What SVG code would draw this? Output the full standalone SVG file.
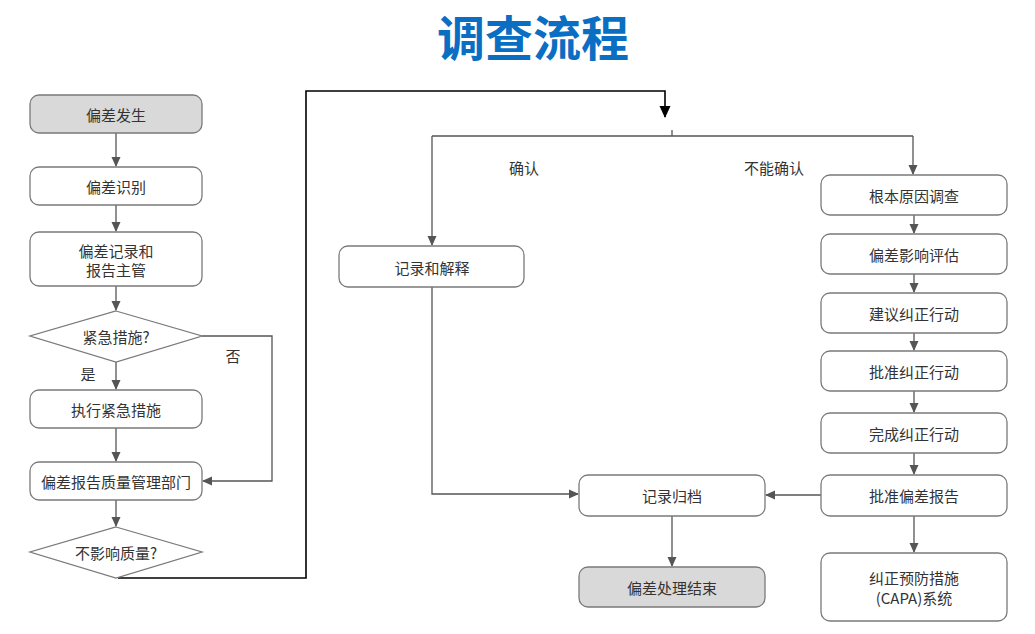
<svg xmlns="http://www.w3.org/2000/svg" width="1035" height="634" viewBox="0 0 1035 634">
<style>
.box{fill:#fff;stroke:#7a7a7a;stroke-width:1.3}
.gray{fill:#d9d9d9}
.t{font-family:"Noto Sans CJK SC","Liberation Sans",sans-serif;font-size:15px;fill:#333;text-anchor:middle;dominant-baseline:central}
.lbl{font-family:"Noto Sans CJK SC","Liberation Sans",sans-serif;font-size:15px;fill:#333;text-anchor:middle;dominant-baseline:central}
.c{fill:none;stroke:#555;stroke-width:1.3}
.k{fill:none;stroke:#000;stroke-width:1.6}
.title{font-family:"Noto Sans CJK SC","Liberation Sans",sans-serif;font-size:48px;font-weight:bold;fill:#0a6fc2;text-anchor:middle}
</style>
<defs>
<marker id="a" markerWidth="10" markerHeight="10" refX="9" refY="5" orient="auto" markerUnits="userSpaceOnUse"><path d="M0,0.5 L10,5 L0,9.5 Z" fill="#555"/></marker>
<marker id="ak" markerWidth="12" markerHeight="12" refX="11" refY="6" orient="auto" markerUnits="userSpaceOnUse"><path d="M0,0.5 L12,6 L0,11.5 Z" fill="#000"/></marker>
</defs>
<rect width="1035" height="634" fill="#fff"/>
<text class="title" x="533" y="56">调查流程</text>

<g id="connectors">
<path class="c" d="M116,133 V166" marker-end="url(#a)"/>
<path class="c" d="M116,205 V231" marker-end="url(#a)"/>
<path class="c" d="M116,286 V310" marker-end="url(#a)"/>
<path class="c" d="M116,362 V389" marker-end="url(#a)"/>
<path class="c" d="M202,336 H272 V481 H203" marker-end="url(#a)"/>
<path class="c" d="M116,428 V461" marker-end="url(#a)"/>
<path class="c" d="M116,500 V526" marker-end="url(#a)"/>
<path class="k" d="M118,578 H306 V91 H665 V117" marker-end="url(#ak)"/>
<path class="c" d="M432,136 H913"/>
<path class="c" d="M672,136 V130"/>
<path class="c" d="M432,136 V245" marker-end="url(#a)"/>
<path class="c" d="M913,136 V174" marker-end="url(#a)"/>
<path class="c" d="M432,287 V494 H578" marker-end="url(#a)"/>
<path class="c" d="M914,215 V233" marker-end="url(#a)"/>
<path class="c" d="M914,274 V292" marker-end="url(#a)"/>
<path class="c" d="M914,333 V350" marker-end="url(#a)"/>
<path class="c" d="M914,391 V412" marker-end="url(#a)"/>
<path class="c" d="M914,453 V474" marker-end="url(#a)"/>
<path class="c" d="M821,495 H766" marker-end="url(#a)"/>
<path class="c" d="M914,516 V552" marker-end="url(#a)"/>
<path class="c" d="M672,516 V566" marker-end="url(#a)"/>
<text class="lbl" x="88" y="373">是</text>
<text class="lbl" x="233" y="355">否</text>
<text class="lbl" x="524" y="167">确认</text>
<text class="lbl" x="774" y="167">不能确认</text>
</g>

<g id="n1"><rect class="box gray" x="30" y="95" width="172" height="38" rx="9"/><text class="t" x="116" y="114">偏差发生</text></g>
<g id="n2"><rect class="box" x="30" y="167" width="172" height="38" rx="9"/><text class="t" x="116" y="186">偏差识别</text></g>
<g id="n3"><rect class="box" x="30" y="232" width="172" height="54" rx="9"/><text class="t" x="116" y="250">偏差记录和</text><text class="t" x="116" y="269">报告主管</text></g>
<g id="d1"><path class="box" d="M116,311 L202,336 L116,362 L30,336 Z"/><text class="t" x="116" y="336">紧急措施?</text></g>
<g id="n4"><rect class="box" x="30" y="390" width="172" height="38" rx="9"/><text class="t" x="116" y="409">执行紧急措施</text></g>
<g id="n5"><rect class="box" x="30" y="462" width="172" height="38" rx="9"/><text class="t" x="116" y="481">偏差报告质量管理部门</text></g>
<g id="d2"><path class="box" d="M116,527 L202,552 L116,578 L30,552 Z"/><text class="t" x="116" y="552">不影响质量?</text></g>

<g id="n6"><rect class="box" x="339" y="246" width="185" height="41" rx="9"/><text class="t" x="432" y="267">记录和解释</text></g>
<g id="n7"><rect class="box" x="579" y="475" width="186" height="41" rx="9"/><text class="t" x="672" y="495">记录归档</text></g>
<g id="n8"><rect class="box gray" x="579" y="567" width="186" height="40" rx="9"/><text class="t" x="672" y="587">偏差处理结束</text></g>

<g id="r1"><rect class="box" x="821" y="175" width="186" height="40" rx="9"/><text class="t" x="914" y="195">根本原因调查</text></g>
<g id="r2"><rect class="box" x="821" y="234" width="186" height="40" rx="9"/><text class="t" x="914" y="254">偏差影响评估</text></g>
<g id="r3"><rect class="box" x="821" y="293" width="186" height="40" rx="9"/><text class="t" x="914" y="313">建议纠正行动</text></g>
<g id="r4"><rect class="box" x="821" y="351" width="186" height="40" rx="9"/><text class="t" x="914" y="371">批准纠正行动</text></g>
<g id="r5"><rect class="box" x="821" y="413" width="186" height="40" rx="9"/><text class="t" x="914" y="433">完成纠正行动</text></g>
<g id="r6"><rect class="box" x="821" y="475" width="186" height="41" rx="9"/><text class="t" x="914" y="495">批准偏差报告</text></g>
<g id="r7"><rect class="box" x="821" y="553" width="186" height="68" rx="9"/><text class="t" x="914" y="577">纠正预防措施</text><text class="t" x="914" y="597">(CAPA)系统</text></g>
</svg>
